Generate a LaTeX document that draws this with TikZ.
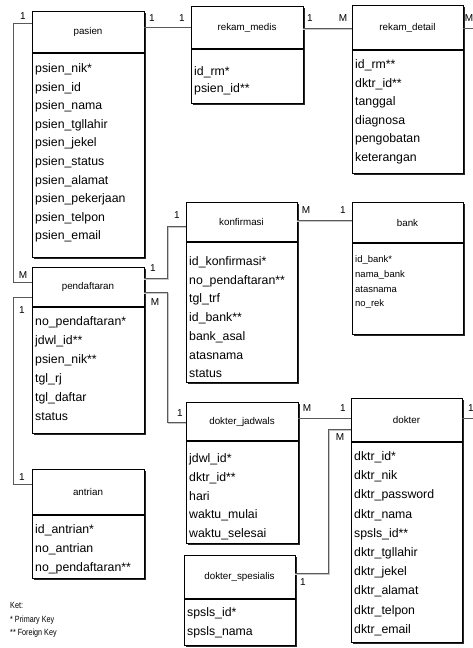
\documentclass[tikz,border=0pt]{standalone}
\usepackage{fontspec}
\setmainfont{Liberation Sans}
\newcommand\erent[7]{%
  \fill[black!85] (#2+2,#3+2) rectangle (#4+2,#6+2);
  \node[ebox, minimum width={(#4-#2)*1pt}, minimum height={(#6-#3)*1pt}] (#1) at ({(#2+#4)/2},{(#3+#6)/2}) {};
  \draw[sepline] (#2,#5) -- (#4,#5);
  \node[ttl] (#1-t) at ({(#2+#4)/2},{(#3+#5)/2}) {#7};
}
\newcommand\erattr[6]{%
  \foreach \t [count=\i] in {#6} {\node[#2] (#1-\i) at (#3, {#4+(\i-1)*#5}) {\t};}
}
\begin{document}
\begin{tikzpicture}[x=1pt,y=-1pt,
  ebox/.style={draw=black, line width=0.8pt, fill=white, inner sep=0pt, outer sep=0pt},
  sepline/.style={draw=black, line width=1.6pt},
  ttl/.style={inner sep=0pt, font=\fontsize{9.8}{11}\selectfont},
  attr/.style={anchor=base west, inner sep=0pt, font=\fontsize{12.3}{14}\selectfont},
  sattr/.style={anchor=base west, inner sep=0pt, font=\fontsize{9.5}{11}\selectfont},
  lbl/.style={inner sep=0pt, font=\fontsize{10}{12}\selectfont},
  conn/.style={draw=black!65, line width=0.8pt},
  connsh/.style={draw=black!22, line width=0.8pt},
  ket/.style={anchor=base west, inner sep=0pt, font=\fontsize{9}{10}\selectfont}]
\useasboundingbox (0,0) rectangle (473,648);
\fill[white] (0,0) rectangle (473,648);

% entities
\erent{pasien}{32}{11}{144}{53}{257}{pasien}
\erattr{pasien}{attr}{35}{72.5}{18.6}{psien\_nik*,psien\_id,psien\_nama,psien\_tgllahir,psien\_jekel,psien\_status,psien\_alamat,psien\_pekerjaan,psien\_telpon,psien\_email}

\erent{rekam_medis}{191}{6}{303}{49}{103}{rekam\_medis}
\erattr{rekam_medis}{attr}{194}{75}{17.5}{id\_rm*,psien\_id**}

\erent{rekam_detail}{352}{5}{463}{50}{173}{rekam\_detail}
\erattr{rekam_detail}{attr}{355}{68.5}{18.6}{id\_rm**,dktr\_id**,tanggal,diagnosa,pengobatan,keterangan}

\erent{konfirmasi}{186}{202}{297}{242}{382}{konfirmasi}
\erattr{konfirmasi}{attr}{189}{265.5}{18.7}{id\_konfirmasi*,no\_pendaftaran**,tgl\_trf,id\_bank**,bank\_asal,atasnama,status}

\erent{bank}{352}{202}{463}{243}{334}{bank}
\erattr{bank}{sattr}{355}{262.5}{14.8}{id\_bank*,nama\_bank,atasnama,no\_rek}

\erent{pendaftaran}{32}{267}{144}{307}{433}{pendaftaran}
\erattr{pendaftaran}{attr}{35}{325.5}{19}{no\_pendaftaran*,jdwl\_id**,psien\_nik**,tgl\_rj,tgl\_daftar,status}

\erent{dokter_jadwals}{186}{402}{298}{441}{543}{dokter\_jadwals}
\erattr{dokter_jadwals}{attr}{189}{462.5}{18.8}{jdwl\_id*,dktr\_id**,hari,waktu\_mulai,waktu\_selesai}

\erent{dokter}{351}{398}{462}{442}{642}{dokter}
\erattr{dokter}{attr}{354}{460.5}{19.2}{dktr\_id*,dktr\_nik,dktr\_password,dktr\_nama,spsls\_id**,dktr\_tgllahir,dktr\_jekel,dktr\_alamat,dktr\_telpon,dktr\_email}

\erent{antrian}{32}{469}{144}{515}{578}{antrian}
\erattr{antrian}{attr}{35}{533.5}{19}{id\_antrian*,no\_antrian,no\_pendaftaran**}

\erent{dokter_spesialis}{184}{555}{295}{599}{645}{dokter\_spesialis}
\erattr{dokter_spesialis}{attr}{187}{616.5}{19}{spsls\_id*,spsls\_nama}

% free ends at the right margin
\coordinate (offA) at (480,28);
\coordinate (offB) at (480,418);

% connectors
\draw[conn] (pasien.east |- 0,27) -- (rekam_medis.west |- 0,27);
\draw[connsh] (rekam_medis.east |- 0,29.5) -- (rekam_detail.west |- 0,29.5);
\draw[conn] (rekam_medis.east |- 0,28) -- (rekam_detail.west |- 0,28);
\draw[conn] (rekam_detail.east |- 0,28) -- (offA);
\draw[conn] (pasien.west |- 0,23) -- (13,23) -- (13,282) -- (pendaftaran.west |- 0,282);
\draw[conn] (pendaftaran.west |- 0,297) -- (13,297) -- (13,484) -- (antrian.west |- 0,484);
\draw[connsh] (pendaftaran.east |- 0,279.5) -- (168.5,279.5) -- (168.5,227.5) -- (konfirmasi.west |- 0,227.5);
\draw[conn] (pendaftaran.east |- 0,278) -- (167,278) -- (167,226) -- (konfirmasi.west |- 0,226);
\draw[connsh] (pendaftaran.east |- 0,293.5) -- (168.5,293.5) -- (168.5,423.5) -- (dokter_jadwals.west |- 0,423.5);
\draw[conn] (pendaftaran.east |- 0,292) -- (167,292) -- (167,422) -- (dokter_jadwals.west |- 0,422);
\draw[connsh] (konfirmasi.east |- 0,221.5) -- (bank.west |- 0,221.5);
\draw[conn] (konfirmasi.east |- 0,220) -- (bank.west |- 0,220);
\draw[conn] (dokter_jadwals.east |- 0,418) -- (dokter.west |- 0,418);
\draw[conn] (dokter.east |- 0,418) -- (offB);
\draw[connsh] (dokter_spesialis.east |- 0,574.5) -- (329.5,574.5) -- (329.5,430.5) -- (dokter.west |- 0,430.5);
\draw[conn] (dokter_spesialis.east |- 0,573) -- (328,573) -- (328,429) -- (dokter.west |- 0,429);

% cardinality labels
\node[lbl] (c1) at (152,18) {1};
\node[lbl] (c2) at (182,18) {1};
\node[lbl] (c3) at (310,18) {1};
\node[lbl] (c4) at (343,18) {M};
\node[lbl] (c5) at (469,18) {M};
\node[lbl] (c6) at (23,16) {1};
\node[lbl] (c7) at (23,275) {M};
\node[lbl] (c8) at (22,310) {1};
\node[lbl] (c9) at (22,477) {1};
\node[lbl] (c10) at (153,268) {1};
\node[lbl] (c11) at (177,215) {1};
\node[lbl] (c12) at (155,302) {M};
\node[lbl] (c13) at (180,413) {1};
\node[lbl] (c14) at (306,210) {M};
\node[lbl] (c15) at (343,210) {1};
\node[lbl] (c16) at (307,408) {M};
\node[lbl] (c17) at (343,408) {1};
\node[lbl] (c18) at (471,408) {1};
\node[lbl] (c19) at (303,582) {1};
\node[lbl] (c20) at (340,437) {M};

% legend
\node[ket] (k1) at (10,608) {\scalebox{0.8}[1]{Ket:}};
\node[ket] (k2) at (10,622) {\scalebox{0.8}[1]{* Primary Key}};
\node[ket] (k3) at (10,635) {\scalebox{0.8}[1]{** Foreign Key}};
\end{tikzpicture}
\end{document}
